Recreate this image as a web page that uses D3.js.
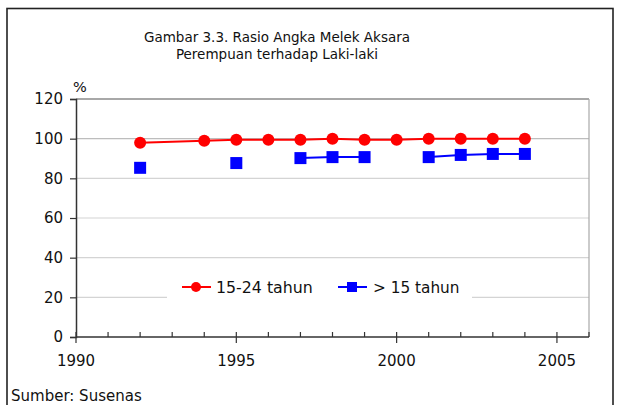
<!DOCTYPE html>
<html>
<head>
<meta charset="utf-8">
<script src="https://cdn.jsdelivr.net/npm/d3@7"></script>
<style>
  html, body { margin: 0; padding: 0; background: #fff; }
  svg { display: block; font-family: "DejaVu Sans", Verdana, sans-serif; }
</style>
</head>
<body>
<svg id="chart" width="621" height="405"></svg>
<script>
// ---- data ----
const titleLines = ["Gambar 3.3. Rasio Angka Melek Aksara", "Perempuan terhadap Laki-laki"];
const years = [1992, 1994, 1995, 1996, 1997, 1998, 1999, 2000, 2001, 2002, 2003, 2004];
const ratio1524 = [97.9, 99.0, 99.4, 99.4, 99.4, 99.9, 99.4, 99.4, 99.9, 99.9, 99.9, 99.9];
const ratioOver15 = [85.3, null, 87.7, null, 90.2, 90.7, 90.7, null, 90.7, 91.8, 92.3, 92.3];
const seriesNames = ["15-24 tahun", "> 15 tahun"];
const yTicks = [0, 20, 40, 60, 80, 100, 120];
const xTicks = [1990, 1995, 2000, 2005];
const source = "Sumber:  Susenas";

// ---- layout ----
const svg = d3.select("#chart");
const x = d3.scaleLinear().domain([1990, 2006]).range([76, 589]);
const y = d3.scaleLinear().domain([0, 120]).range([337, 99]);

// outer frame
svg.append("rect").attr("x", 7).attr("y", 8.5).attr("width", 606).attr("height", 420)
  .attr("fill", "none").attr("stroke", "#222").attr("stroke-width", 1.6);

// title
svg.append("g").selectAll("text").data(titleLines).join("text")
  .attr("x", 277).attr("y", (d, i) => 42 + i * 16.5)
  .attr("text-anchor", "middle").attr("font-size", 13.5).attr("fill", "#111")
  .text(d => d);

// gridlines
svg.append("g").selectAll("line").data(yTicks.filter(t => t > 0 && t < 120)).join("line")
  .attr("x1", x(1990)).attr("x2", x(2006))
  .attr("y1", d => y(d)).attr("y2", d => y(d))
  .attr("stroke", d => d === 100 ? "#bdbdbd" : "#d4d4d4").attr("stroke-width", 1.2);

// plot top & right border
svg.append("line").attr("x1", x(1990)).attr("x2", x(2006)).attr("y1", y(120)).attr("y2", y(120))
  .attr("stroke", "#a8a8a8").attr("stroke-width", 2);
svg.append("line").attr("x1", x(2006)).attr("x2", x(2006)).attr("y1", y(120)).attr("y2", y(0))
  .attr("stroke", "#a8a8a8").attr("stroke-width", 1.2);

// y axis
const yAxis = d3.axisLeft(y).tickValues(yTicks).tickSize(6).tickPadding(7).tickFormat(d3.format("d"));
const gy = svg.append("g").attr("transform", `translate(${x(1990)},0)`).call(yAxis);
gy.select(".domain").attr("stroke", "#333").attr("stroke-width", 1.5);
gy.selectAll(".tick line").attr("stroke", "#333").attr("stroke-width", 1.2);
gy.selectAll(".tick text").attr("font-size", 15).attr("fill", "#111")
  .attr("font-family", "DejaVu Sans, Verdana, sans-serif");

svg.append("text").attr("x", 73).attr("y", 92).attr("font-size", 14.5).attr("fill", "#111").text("%");

// x axis: minor ticks (upward) and major ticks (crossing)
const minorYears = d3.range(1991, 2007).filter(v => v % 5 !== 0);
svg.append("g").selectAll("line").data(minorYears).join("line")
  .attr("x1", d => x(d)).attr("x2", d => x(d)).attr("y1", y(0) - 5).attr("y2", y(0))
  .attr("stroke", "#333").attr("stroke-width", 1.2);
svg.append("g").selectAll("line").data(xTicks).join("line")
  .attr("x1", d => x(d)).attr("x2", d => x(d)).attr("y1", y(0) - 5).attr("y2", y(0) + 6)
  .attr("stroke", "#333").attr("stroke-width", 1.2);
svg.append("line").attr("x1", x(1990)).attr("x2", x(2006)).attr("y1", y(0)).attr("y2", y(0))
  .attr("stroke", "#333").attr("stroke-width", 1.5);
svg.append("g").selectAll("text").data(xTicks).join("text")
  .attr("x", d => x(d)).attr("y", 366).attr("text-anchor", "middle")
  .attr("font-size", 15).attr("fill", "#111").text(d => d);

// series
const red = "#ff0000", blue = "#0000ff";
const d1 = years.map((yr, i) => ({ yr, v: ratio1524[i] }));
const d2 = years.map((yr, i) => ({ yr, v: ratioOver15[i] }));
const line = d3.line().defined(d => d.v != null).x(d => x(d.yr)).y(d => y(d.v));

svg.append("path").datum(d2).attr("d", line).attr("fill", "none").attr("stroke", blue).attr("stroke-width", 2);
svg.append("g").selectAll("rect").data(d2.filter(d => d.v != null)).join("rect")
  .attr("x", d => x(d.yr) - 6).attr("y", d => y(d.v) - 6).attr("width", 12).attr("height", 12)
  .attr("fill", blue);

svg.append("path").datum(d1).attr("d", line).attr("fill", "none").attr("stroke", red).attr("stroke-width", 2);
svg.append("g").selectAll("circle").data(d1).join("circle")
  .attr("cx", d => x(d.yr)).attr("cy", d => y(d.v)).attr("r", 6).attr("fill", red);

// legend
const lg = svg.append("g");
lg.append("rect").attr("x", 167).attr("y", 266).attr("width", 305).attr("height", 42).attr("fill", "#fff");
const ly = 287;
lg.append("line").attr("x1", 182).attr("x2", 211).attr("y1", ly).attr("y2", ly).attr("stroke", red).attr("stroke-width", 2);
lg.append("circle").attr("cx", 196).attr("cy", ly).attr("r", 5).attr("fill", red);
lg.append("text").attr("x", 216).attr("y", ly).attr("dy", "0.36em").attr("font-size", 15.8).attr("fill", "#111").text(seriesNames[0]);
lg.append("line").attr("x1", 338).attr("x2", 367).attr("y1", ly).attr("y2", ly).attr("stroke", blue).attr("stroke-width", 2);
lg.append("rect").attr("x", 347).attr("y", ly - 5).attr("width", 10).attr("height", 10).attr("fill", blue);
lg.append("text").attr("x", 373).attr("y", ly).attr("dy", "0.36em").attr("font-size", 15.3).attr("fill", "#111").text(seriesNames[1]);

// source
svg.append("text").attr("x", 11).attr("y", 401).attr("font-size", 15).attr("fill", "#111").text(source);
</script>
</body>
</html>
